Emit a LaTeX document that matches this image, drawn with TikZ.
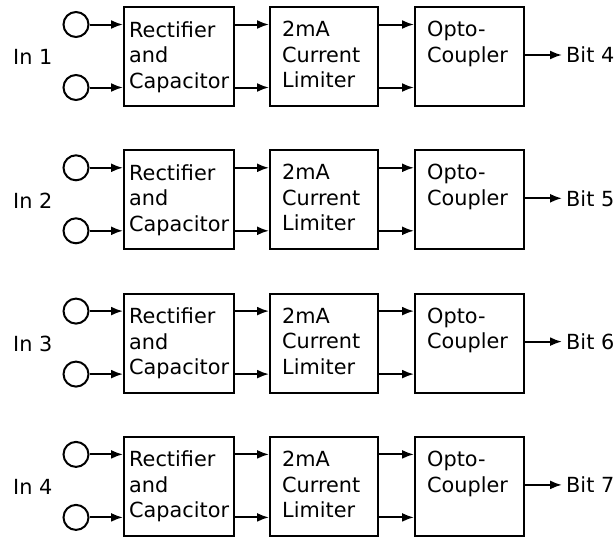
\documentclass[tikz,border=0pt]{standalone}
\usepackage{fontspec}
\setmainfont{DejaVu Sans}
\usetikzlibrary{arrows.meta,positioning}
\tikzset{
	block/.style={draw, line width=2pt, minimum height=99pt, inner sep=0pt},
	pin/.style={draw, circle, line width=2pt, minimum size=25pt, inner sep=0pt},
	blocktext/.style={inner sep=0pt, align=left, font=\fontsize{20.8}{25.5}\selectfont},
	tag/.style={inner sep=0pt, font=\fontsize{20.8}{25.5}\selectfont},
	wire/.style={line width=2pt, -{Latex[length=12pt,width=9pt]}},
}

\begin{document}
\begin{tikzpicture}[x=1pt, y=-1pt]
	\useasboundingbox (0,0) rectangle (615,538);
	\foreach \i/\b in {1/4, 2/5, 3/6, 4/7} {
		\pgfmathsetmacro\t{7 + 143.3*(\i-1)}
		% inputs
		\node[tag, anchor=west] (in\i) at (13, \t+50) {In \i};
		\node[pin] (inA\i) at (76, \t+17.5) {};
		\node[pin] (inB\i) at (76, \t+80.5) {};
		% blocks
		\node[block, minimum width=110pt] (rect\i) at (179, \t+49.5) {};
		\node[block, minimum width=108pt] (curr\i) at (324, \t+49.5) {};
		\node[block, minimum width=109pt] (opto\i) at (469.5, \t+49.5) {};
		\node[blocktext, below right=15pt and 6pt of rect\i.north west] (rectTxt\i) {Rectifier\\and\\Capacitor};
		\node[blocktext, below right=15pt and 13pt of curr\i.north west] (currTxt\i) {2mA\\Current\\Limiter};
		\node[blocktext, below right=15pt and 13pt of opto\i.north west] (optoTxt\i) {Opto-\\Coupler};
		% output
		\node[tag, anchor=west, inner sep=4pt] (bit\i) at (562, \t+48) {Bit \b};

		\draw[wire] (inA\i) -- (inA\i -| rect\i.west);
		\draw[wire] (inB\i) -- (inB\i -| rect\i.west);
		\draw[wire] (rect\i.east |- inA\i) -- (curr\i.west |- inA\i);
		\draw[wire] (rect\i.east |- inB\i) -- (curr\i.west |- inB\i);
		\draw[wire] (curr\i.east |- inA\i) -- (opto\i.west |- inA\i);
		\draw[wire] (curr\i.east |- inB\i) -- (opto\i.west |- inB\i);
		\draw[wire] (opto\i.east |- bit\i) -- (bit\i.west);
	}
\end{tikzpicture}
\end{document}
